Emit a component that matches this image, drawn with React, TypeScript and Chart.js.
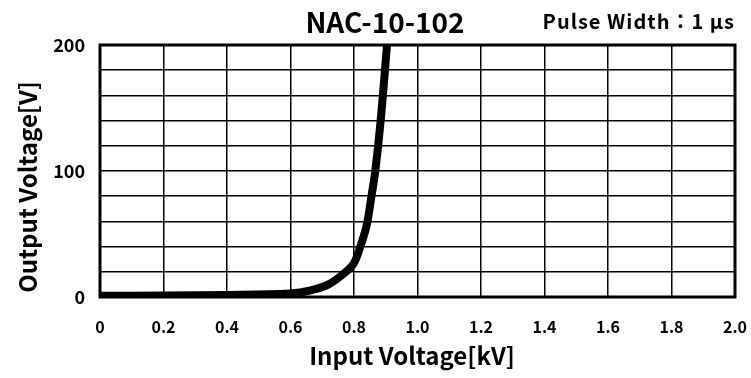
import React, { useEffect, useRef } from "react";
import { Chart, registerables } from "chart.js";

Chart.register(...registerables);

// ---- data ----
const inputVoltage = [0, 0.2, 0.4, 0.6, 0.66, 0.72, 0.77, 0.8, 0.82, 0.84, 0.855, 0.867, 0.884, 0.904];
const outputVoltage = [1, 1.2, 1.6, 2.8, 5, 10, 19, 27, 40, 57, 80, 100, 140, 200];
const yLabeledTicks = [0, 100, 200];
const chartTitle = "NAC-10-102";
const pulseNote = "Pulse Width：1 μs";
const xAxisTitle = "Input Voltage[kV]";
const yAxisTitle = "Output Voltage[V]";

const FONT = '"Noto Sans CJK JP", "Liberation Sans", sans-serif';

const decorPlugin = {
  id: "decor",
  beforeDatasetsDraw(chart: any) {
    const { ctx, chartArea } = chart;
    ctx.save();
    ctx.strokeStyle = "#000";
    ctx.lineWidth = 3;
    ctx.strokeRect(chartArea.left, chartArea.top, chartArea.right - chartArea.left, chartArea.bottom - chartArea.top);
    ctx.restore();
  },
  afterDraw(chart: any) {
    const { ctx, chartArea } = chart;
    ctx.save();
    ctx.fillStyle = "#000";
    ctx.textBaseline = "middle";
    ctx.textAlign = "center";
    ctx.font = `bold 28px ${FONT}`;
    ctx.fillText(chartTitle, 385, 22);
    ctx.textAlign = "right";
    ctx.font = `bold 20px ${FONT}`;
    try { (ctx as any).letterSpacing = "1px"; } catch (e) {}
    ctx.fillText(pulseNote, chartArea.right, 21);
    try { (ctx as any).letterSpacing = "0px"; } catch (e) {}
    ctx.textAlign = "center";
    ctx.font = `bold 24px ${FONT}`;
    ctx.fillText(xAxisTitle, 412, 356);
    ctx.translate(28, 187);
    ctx.rotate(-Math.PI / 2);
    ctx.fillText(yAxisTitle, 0, 0);
    ctx.restore();
  },
};

export default function App() {
  const ref = useRef<HTMLCanvasElement | null>(null);
  useEffect(() => {
    document.body.style.margin = "0";
    const canvas = ref.current;
    if (!canvas) return;
    const chart = new Chart(canvas, {
      type: "line",
      data: {
        datasets: [
          {
            data: inputVoltage.map((x, i) => ({ x, y: outputVoltage[i] })),
            borderColor: "#000",
            borderWidth: 8,
            pointRadius: 0,
            tension: 0.35,
            fill: false,
          },
        ],
      },
      options: {
        animation: false,
        responsive: true,
        maintainAspectRatio: false,
        layout: { padding: { top: 45, right: 0, left: 0, bottom: 0 } },
        plugins: { legend: { display: false }, tooltip: { enabled: false } },
        scales: {
          x: {
            type: "linear",
            min: 0,
            max: 2,
            afterFit: (s: any) => {
              s.height = 81;
              s.paddingRight = 16;
              s.paddingLeft = 0;
            },
            ticks: {
              stepSize: 0.2,
              padding: 20,
              color: "#000",
              font: { family: FONT, size: 16, weight: "bold" },
              maxRotation: 0,
              callback: (v: any) => (Number(v) === 0 ? "0" : Number(v).toFixed(1)),
            },
            grid: { color: "#000", lineWidth: 1.5, drawTicks: false },
            border: { display: false },
          },
          y: {
            type: "linear",
            min: 0,
            max: 200,
            afterFit: (s: any) => {
              s.width = 100;
              s.paddingTop = 0;
              s.paddingBottom = 0;
            },
            ticks: {
              stepSize: 20,
              padding: 15,
              color: "#000",
              autoSkip: false,
              font: { family: FONT, size: 18, weight: "bold" },
              callback: (v: any) => (yLabeledTicks.includes(Number(v)) ? String(v) : ""),
            },
            grid: { color: "#000", lineWidth: 1.5, drawTicks: false },
            border: { display: false },
          },
        },
      },
      plugins: [decorPlugin],
    });
    return () => chart.destroy();
  }, []);
  return (
    <div style={{ position: "relative", width: 751, height: 378 }}>
      <canvas ref={ref} />
    </div>
  );
}
